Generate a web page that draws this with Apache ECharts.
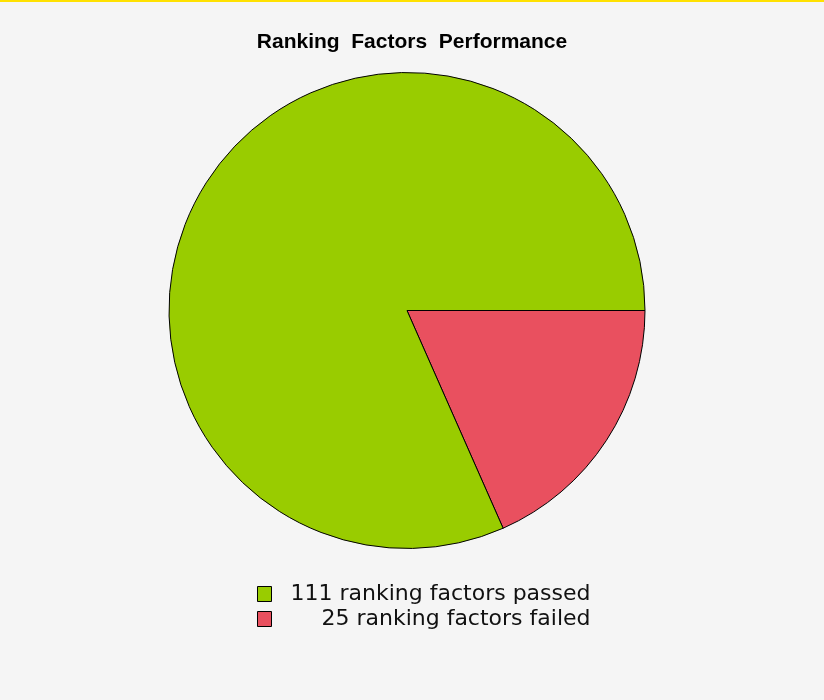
<!DOCTYPE html>
<html>
<head>
<meta charset="utf-8">
<script src="https://cdn.jsdelivr.net/npm/echarts@6/dist/echarts.min.js"></script>
<style>
  html, body { margin: 0; padding: 0; background: #f5f5f5; }
  #chart { width: 824px; height: 700px; }
</style>
</head>
<body>
<div id="chart"></div>
<script>
// chart data
const statuses = ['passed', 'failed'];
const counts = [111, 25];
const colors = ['#99cc00', '#e9505f'];

const names = statuses.map((s, i) => `${counts[i]} ranking factors ${s}`);

const chart = echarts.init(document.getElementById('chart'));

// red slice is drawn first so it starts at 3 o'clock
const pieData = [1, 0].map(i => ({
  name: names[i],
  value: counts[i],
  itemStyle: { color: colors[i] }
}));

const option = {
  animation: false,
  backgroundColor: '#f5f5f5',
  title: {
    text: 'Ranking  Factors  Performance',
    left: 'center',
    top: 27,
    textStyle: { fontFamily: 'Liberation Sans', fontWeight: 'bold', fontSize: 21, color: '#000' }
  },
  graphic: [{
    type: 'rect',
    shape: { x: 0, y: 0, width: 824, height: 2 },
    style: { fill: '#ffe100' },
    silent: true
  }],
  legend: {
    data: names,
    orient: 'vertical',
    left: 252,
    top: 578,
    icon: 'rect',
    itemWidth: 14,
    itemHeight: 15,
    itemGap: 3,
    itemStyle: { borderColor: '#000', borderWidth: 1 },
    selectedMode: false,
    formatter: n => `{t|${n}}`,
    textStyle: {
      rich: {
        t: {
          width: 314, align: 'right', lineHeight: 20,
          fontFamily: 'DejaVu Sans', fontSize: 22, color: '#111'
        }
      }
    }
  },
  series: [{
    type: 'pie',
    center: [407, 310.5],
    radius: 238,
    startAngle: 0,
    clockwise: true,
    label: { show: false },
    labelLine: { show: false },
    emphasis: { disabled: true },
    itemStyle: { borderColor: '#000', borderWidth: 1 },
    data: pieData
  }]
};

chart.setOption(option);
</script>
</body>
</html>
